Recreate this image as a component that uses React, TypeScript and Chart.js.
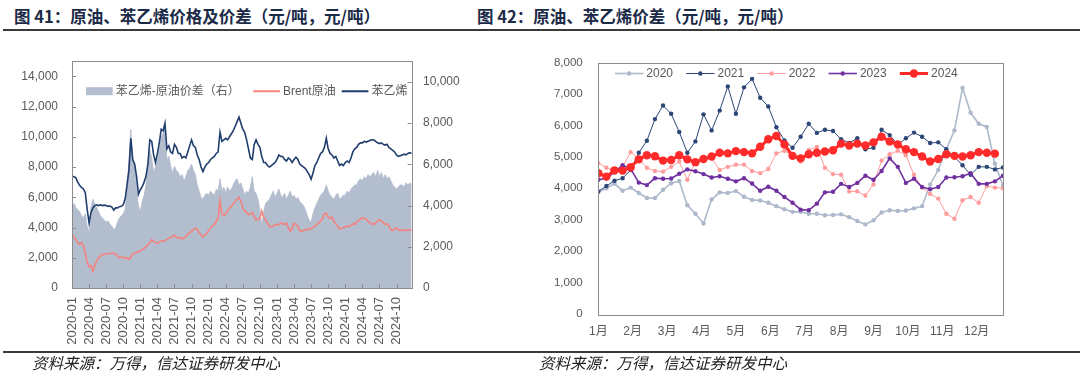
import React, { useEffect, useRef } from "react";
import { Chart, registerables } from "chart.js";

Chart.register(...registerables);

// ---------------- Figure 41 data (3 samples per month, 2020-01 .. 2024-12) ----------------
const samplesPerMonth = 3;
const quarterLabels = [
  "2020-01", "2020-04", "2020-07", "2020-10",
  "2021-01", "2021-04", "2021-07", "2021-10",
  "2022-01", "2022-04", "2022-07", "2022-10",
  "2023-01", "2023-04", "2023-07", "2023-10",
  "2024-01", "2024-04", "2024-07", "2024-10",
];
const leftPriceTicks = [0, 2000, 4000, 6000, 8000, 10000, 12000, 14000];
const rightSpreadTicks = [0, 2000, 4000, 6000, 8000, 10000];
const leftLegendLabels = ["苯乙烯-原油价差（右）", "Brent原油", "苯乙烯"];

const styrenePrice = [
  7400, 7350, 7300, 7000, 6800, 6650, 6550, 6300, 5200, 4300, 5000, 5300,
  5450, 5500, 5450, 5500, 5450, 5480, 5450, 5400, 5420, 5350, 5150, 5300,
  5300, 5380, 5400, 5500, 5900, 6800, 7800, 9900, 8500, 8200, 7400, 6200,
  6500, 6700, 7000, 7400, 8200, 9800, 9700, 8800, 8300, 8900, 9600, 10500,
  10400, 10900, 9200, 9400, 9000, 8900, 9500, 9300, 8900, 8900, 8600, 8700,
  8600, 9000, 9400, 9800, 9400, 9300, 8800, 8500, 8000, 7700, 8000, 8200,
  8300, 8500, 8600, 8700, 8900, 9000, 10300, 9700, 9800, 9900, 9800, 10000,
  10200, 10400, 10700, 11000, 11300, 10900, 10500, 10300, 9800, 9200, 8600, 8500,
  9500, 9800, 9500, 9300, 8700, 8300, 8300, 8100, 8000, 8100, 8200, 8300,
  8500, 8800, 8700, 8700, 8500, 8400, 8600, 8500, 8300, 8500, 8650, 8500,
  8200, 8100, 8000, 7900, 7700, 7500, 7200, 7600, 8100, 8300, 8600, 8900,
  9000, 9300, 9900, 9200, 8900, 8800, 8600, 8700, 8400, 8100, 8200, 8100,
  8300, 8400, 8300, 8600, 9000, 9200, 9300, 9500, 9600, 9600, 9700, 9650,
  9700, 9750, 9800, 9800, 9700, 9600, 9550, 9600, 9500, 9450, 9500, 9300,
  9200, 9100, 9000, 8800, 8700, 8750, 8800, 8850, 8800, 8900, 8950, 8900,
];

const brentPrice = [
  3500, 3400, 3200, 3000, 2900, 3000, 2800, 2300, 1700, 1400, 1500, 1100,
  1500, 1800, 2000, 2100, 2200, 2250, 2250, 2250, 2280, 2300, 2300, 2250,
  2100, 2000, 2050, 2050, 1950, 2000, 1900, 2050, 2250, 2300, 2350, 2400,
  2450, 2550, 2600, 2750, 2850, 3000, 3200, 3100, 3000, 2950, 3050, 3100,
  3100, 3150, 3200, 3300, 3350, 3400, 3500, 3350, 3300, 3350, 3250, 3300,
  3400, 3550, 3650, 3750, 3850, 3950, 3900, 3650, 3500, 3350, 3500, 3600,
  3800, 3950, 4100, 4200, 4400, 4600, 5800, 4900, 4800, 4900, 5100, 5300,
  5400, 5600, 5700, 5900, 6000, 5700, 5300, 5100, 5000, 4850, 4900, 5000,
  4700, 4500, 4550, 4600, 5100, 4700, 4500, 4300, 4100, 4050, 4100, 4200,
  4150, 4200, 4300, 4250, 4200, 4300, 4000, 3750, 3950, 4300, 4200, 4050,
  3800, 3750, 3800, 3850, 3900, 3850, 3950, 4000, 4100, 4200, 4350, 4400,
  4600, 4900, 4950, 4700, 4600, 4700, 4400, 4250, 4100, 3900, 3950, 4000,
  4050, 4100, 4050, 4150, 4250, 4200, 4400, 4450, 4550, 4650, 4600, 4550,
  4400, 4300, 4250, 4200, 4300, 4450, 4500, 4450, 4300, 4200, 4250, 4100,
  3850, 3800, 3900, 4000, 3850, 3800, 3850, 3800, 3850, 3800, 3850, 3800,
];

const spreadValues = [
  4000, 4100, 3900, 3800, 3700, 3500, 3400, 3600, 3000, 2700, 3900, 4300,
  4100, 3900, 3700, 3500, 3400, 3300, 3200, 3250, 3100, 3000, 2850, 2900,
  3200, 3400, 3500, 3600, 3800, 5000, 6100, 7700, 6200, 5900, 4800, 4000,
  3700, 4200, 4500, 5000, 6000, 6700, 6300, 5600, 5900, 6200, 6700, 7300,
  7500, 7800, 6200, 6400, 5900, 5600, 5900, 5700, 5600, 5400, 5500, 5200,
  5400, 5700, 5800, 6000, 5700, 5500, 5000, 4700, 4400, 4300, 4500, 4600,
  4500, 4700, 4600, 4500, 4800, 4700, 5300, 4700, 4900, 4600, 4900, 4700,
  4800, 5000, 5200, 5300, 5000, 5100, 4800, 4500, 4700, 4600, 4900, 5400,
  4700, 4600, 4300, 3800, 3000, 3700, 4100, 4200, 4300, 4500, 4700, 4400,
  4600, 4800, 4500, 4400, 4600, 4300, 4500, 4700, 4400, 4500, 4300, 4400,
  4200, 4100, 4000, 3800, 3500, 3300, 3200, 3600, 3900, 4100, 4300, 4500,
  4600, 4700, 5000, 4700, 4500, 4400, 4300, 4500, 4600, 4300, 4400, 4500,
  4500, 4700, 4600, 4800, 4900, 5000, 5000, 5200, 5300, 5200, 5400, 5300,
  5500, 5400, 5500, 5600, 5400, 5700, 5400, 5600, 5300, 5500, 5300, 5400,
  5200, 5000, 4900, 4800, 4900, 5000, 5000, 4900, 5100, 5000, 5100, 5000,
];

// ---------------- Figure 42 data (weekly, 51 slots per year) ----------------
const pointsPerYear = 51;
const monthLabels = ["1月", "2月", "3月", "4月", "5月", "6月", "7月", "8月", "9月", "10月", "11月", "12月"];
const yearLabels = ["2020", "2021", "2022", "2023", "2024"];
const rightChartTicks = [0, 1000, 2000, 3000, 4000, 5000, 6000, 7000, 8000];

const spread2020 = [
  3880, 4000, 4150, 3920, 4020, 3850, 3690, 3690, 3950, 4160,
  4230, 3460, 3190, 2880, 3640, 3870, 3850, 3910, 3730, 3630,
  3610, 3540, 3430, 3330, 3250, 3250, 3190, 3190, 3140, 3150,
  3170, 3080, 2960, 2850, 2980, 3230, 3300, 3280, 3290, 3360,
  3430, 4120, 4580, 5240, 5840, 7190, 6400, 6050, 5950, 4780, 4080,
];
const spread2021 = [
  3900, 4070, 4240, 4320, 4580, 5130, 5510, 6200, 6630, 6370,
  5790, 5130, 5490, 6350, 5840, 6470, 7240, 6370, 7210, 7480,
  6880, 6600, 5940, 5520, 5290, 5640, 6050, 5760, 5860, 5820,
  5560, 5440, 5590, 5240, 5290, 5860, 5690, 5390, 5590, 5770,
  5640, 5440, 5460, 5240, 5000, 4730, 4430, 4680, 4680, 4600, 4660,
];
const spread2022 = [
  4800, 4650, 4550, 4680, 5150, 4950, 4650, 4550, 4530, 4680,
  4850, 4270, 4850, 4950, 4960, 4580, 4680, 4750, 4750, 4550,
  4480, 4610, 5110, 5190, 5030, 4850, 5220, 5310, 4650, 4450,
  4430, 3900, 3900, 3770, 4120, 4880, 5080, 5190, 5050, 4430,
  4020, 3820, 3670, 3190, 3030, 3620, 3720, 3540, 4070, 4020, 4000,
];
const spread2023 = [
  4270, 4320, 4510, 4730, 4620, 4180, 4100, 4320, 4300, 4310,
  4460, 4600, 4540, 4450, 4340, 4380, 4300, 4220, 4320, 4150,
  3920, 4050, 3920, 3720, 3540, 3320, 3300, 3510, 3870, 3890,
  4140, 4040, 4170, 4400, 4270, 4550, 4950, 4680, 4170, 4300,
  4040, 3970, 4040, 4340, 4350, 4380, 4480, 4140, 4140, 4220, 4400,
];
const spread2024 = [
  4480, 4370, 4570, 4560, 4670, 4920, 5050, 5020, 4880, 4900,
  5050, 4920, 4830, 4930, 5010, 5130, 5110, 5180, 5150, 5110,
  5320, 5560, 5660, 5390, 5030, 4950, 5080, 5130, 5170, 5210,
  5420, 5360, 5420, 5360, 5460, 5640, 5490, 5390, 5240, 5150,
  5010, 4850, 4930, 5080, 5030, 5010, 5050, 5150, 5130, 5100,
];

// ---------------- styles ----------------
const LATIN = '"Liberation Sans", Arial, "Noto Sans CJK SC", sans-serif';
const CJK = '"Noto Sans CJK SC", "Noto Sans CJK TC", sans-serif';
const AXIS_TEXT = "#595959";
const BOX_COLOR = "#8C8C8C";
const STYRENE_COLOR = "#203D6E";
const BRENT_COLOR = "#F4837F";
const AREA_COLOR = "#B2BDCE";

const yearStyles = [
  { color: "#ADB9CA", width: 1.6, radius: 2.2 },
  { color: "#2B4677", width: 1, radius: 2.2 },
  { color: "#FF9C9C", width: 1, radius: 2.2 },
  { color: "#7030A0", width: 1.6, radius: 2.2 },
  { color: "#FF2A2A", width: 3, radius: 4.2 },
];

const thousands = (v: number) => Number(v).toLocaleString("en-US");
const fixedTicks = (values: number[]) => (s: any) => {
  s.ticks = values.map((v) => ({ value: v }));
};

const boxPlugin = {
  id: "boxFrame",
  afterDatasetsDraw(chart: any) {
    const { ctx, chartArea: a } = chart;
    ctx.save();
    ctx.strokeStyle = BOX_COLOR;
    ctx.lineWidth = 1;
    ctx.strokeRect(Math.round(a.left) + 0.5, Math.round(a.top) + 0.5, Math.round(a.right - a.left), Math.round(a.bottom - a.top));
    ctx.restore();
  },
};

const leftDecorPlugin = {
  id: "leftDecor",
  afterDatasetsDraw(chart: any) {
    const { ctx, chartArea: a, scales } = chart;
    ctx.save();
    ctx.strokeStyle = BOX_COLOR;
    ctx.lineWidth = 1;
    ctx.beginPath();
    scales.x.ticks.forEach((t: any) => {
      const px = Math.round(scales.x.getPixelForValue(t.value)) + 0.5;
      ctx.moveTo(px, a.bottom);
      ctx.lineTo(px, a.bottom - 4);
    });
    scales.y.ticks.forEach((t: any) => {
      const py = Math.round(scales.y.getPixelForValue(t.value)) + 0.5;
      ctx.moveTo(a.left, py);
      ctx.lineTo(a.left + 4, py);
    });
    scales.y1.ticks.forEach((t: any) => {
      const py = Math.round(scales.y1.getPixelForValue(t.value)) + 0.5;
      ctx.moveTo(a.right, py);
      ctx.lineTo(a.right - 4, py);
    });
    ctx.stroke();

    // legend inside plot, clipped at plot edge
    ctx.beginPath();
    ctx.rect(a.left, a.top, a.right - a.left, a.bottom - a.top);
    ctx.clip();
    const y = a.top + 30;
    const starts = [14, 181.3, 269.7];
    const ds = chart.data.datasets;
    const order = [2, 1, 0];
    ctx.font = `12px ${LATIN}`;
    ctx.textBaseline = "middle";
    order.forEach((di, k) => {
      const x0 = a.left + starts[k];
      const d = ds[di];
      if (d.fill) {
        ctx.fillStyle = AREA_COLOR;
        ctx.fillRect(x0, y - 4, 26.7, 8);
      } else {
        ctx.strokeStyle = d.borderColor;
        ctx.lineWidth = 2;
        ctx.beginPath();
        ctx.moveTo(x0, y);
        ctx.lineTo(x0 + 26.7, y);
        ctx.stroke();
      }
      ctx.fillStyle = AXIS_TEXT;
      ctx.fillText(leftLegendLabels[k], x0 + 29.7, y + 0.5);
    });
    ctx.restore();
  },
};

const rightLegendPlugin = {
  id: "rightLegend",
  afterDatasetsDraw(chart: any) {
    const { ctx, chartArea: a } = chart;
    const y = a.top + 11;
    let x = a.left + 16.7;
    ctx.save();
    ctx.font = `12px ${LATIN}`;
    ctx.textBaseline = "middle";
    yearLabels.forEach((label, k) => {
      const st = yearStyles[k];
      ctx.strokeStyle = st.color;
      ctx.lineWidth = st.width;
      ctx.beginPath();
      ctx.moveTo(x, y);
      ctx.lineTo(x + 28.3, y);
      ctx.stroke();
      ctx.fillStyle = st.color;
      ctx.beginPath();
      ctx.arc(x + 14.15, y, st.radius, 0, Math.PI * 2);
      ctx.fill();
      ctx.fillStyle = AXIS_TEXT;
      ctx.fillText(label, x + 31.3, y + 0.5);
      x += 31.3 + ctx.measureText(label).width + 13.2;
    });
    ctx.restore();
  },
};

function LeftChart() {
  const ref = useRef<HTMLCanvasElement>(null);
  useEffect(() => {
    const toPts = (arr: number[]) => arr.map((v, i) => ({ x: i / samplesPerMonth, y: v }));
    const chart = new Chart(ref.current as HTMLCanvasElement, {
      type: "line",
      data: {
        datasets: [
          {
            label: leftLegendLabels[2],
            data: toPts(styrenePrice),
            borderColor: STYRENE_COLOR,
            borderWidth: 1.6,
            pointRadius: 0,
            yAxisID: "y",
            order: 1,
          },
          {
            label: leftLegendLabels[1],
            data: toPts(brentPrice),
            borderColor: BRENT_COLOR,
            borderWidth: 1.6,
            pointRadius: 0,
            yAxisID: "y",
            order: 2,
          },
          {
            label: leftLegendLabels[0],
            data: toPts(spreadValues),
            borderColor: AREA_COLOR,
            backgroundColor: AREA_COLOR,
            borderWidth: 0.8,
            pointRadius: 0,
            fill: "origin",
            yAxisID: "y1",
            order: 3,
          },
        ],
      } as any,
      options: {
        responsive: false,
        animation: false,
        events: [],
        layout: { padding: { top: 16, left: 0, right: 0, bottom: 0 } },
        plugins: { legend: { display: false }, tooltip: { enabled: false } },
        scales: {
          x: {
            type: "linear",
            min: 0,
            max: (styrenePrice.length - 1) / samplesPerMonth,
            grid: { display: false, drawTicks: false },
            border: { display: false },
            afterBuildTicks: fixedTicks(quarterLabels.map((_, q) => q * 3)),
            ticks: {
              autoSkip: false,
              maxRotation: 90,
              minRotation: 90,
              padding: 9,
              color: AXIS_TEXT,
              font: { family: LATIN, size: 13 },
              callback: (v: any) => quarterLabels[Math.round(Number(v) / 3)],
            },
            afterFit: (s: any) => {
              s.height = 64;
            },
          },
          y: {
            position: "left",
            min: 0,
            max: 15000,
            grid: { display: false, drawTicks: false },
            border: { display: false },
            afterBuildTicks: fixedTicks(leftPriceTicks),
            ticks: {
              autoSkip: false,
              padding: 14,
              color: AXIS_TEXT,
              font: { family: LATIN, size: 12 },
              callback: (v: any) => thousands(v),
            },
            afterFit: (s: any) => {
              s.width = 72;
            },
          },
          y1: {
            position: "right",
            min: 0,
            max: 11000,
            grid: { display: false, drawTicks: false },
            border: { display: false },
            afterBuildTicks: fixedTicks(rightSpreadTicks),
            ticks: {
              autoSkip: false,
              padding: 11.3,
              color: AXIS_TEXT,
              font: { family: LATIN, size: 12 },
              callback: (v: any) => thousands(v),
            },
            afterFit: (s: any) => {
              s.width = 58.3;
            },
          },
        },
      } as any,
      plugins: [boxPlugin, leftDecorPlugin],
    });
    return () => chart.destroy();
  }, []);
  return (
    <canvas ref={ref} width={470} height={312} style={{ position: "absolute", left: 0, top: 40, width: 470, height: 312 }} />
  );
}

function RightChart() {
  const ref = useRef<HTMLCanvasElement>(null);
  useEffect(() => {
    const toPts = (arr: number[]) => arr.map((v, i) => ({ x: (i * 12) / pointsPerYear, y: v }));
    const all = [spread2020, spread2021, spread2022, spread2023, spread2024];
    const chart = new Chart(ref.current as HTMLCanvasElement, {
      type: "line",
      data: {
        datasets: all.map((arr, k) => ({
          label: yearLabels[k],
          data: toPts(arr),
          borderColor: yearStyles[k].color,
          backgroundColor: yearStyles[k].color,
          borderWidth: yearStyles[k].width,
          pointRadius: yearStyles[k].radius,
          pointBorderWidth: 0,
          pointBackgroundColor: yearStyles[k].color,
          order: 5 - k,
        })),
      } as any,
      options: {
        responsive: false,
        animation: false,
        events: [],
        layout: { padding: { top: 10.7, left: 0, right: 77, bottom: 0 } },
        plugins: { legend: { display: false }, tooltip: { enabled: false } },
        scales: {
          x: {
            type: "linear",
            min: 0,
            max: ((pointsPerYear - 1) * 12) / pointsPerYear,
            grid: { display: false, drawTicks: false },
            border: { display: false },
            afterBuildTicks: fixedTicks(monthLabels.map((_, m) => m)),
            ticks: {
              autoSkip: false,
              maxRotation: 0,
              minRotation: 0,
              padding: 10,
              color: AXIS_TEXT,
              font: { family: LATIN, size: 12 },
              callback: (v: any) => monthLabels[Math.round(Number(v))],
            },
            afterFit: (s: any) => {
              s.height = 38;
            },
          },
          y: {
            min: 0,
            max: 8000,
            grid: { display: false, drawTicks: false },
            border: { display: false },
            afterBuildTicks: fixedTicks(rightChartTicks),
            ticks: {
              autoSkip: false,
              padding: 15.6,
              color: AXIS_TEXT,
              font: { family: LATIN, size: 11.5 },
              callback: (v: any) => thousands(v),
            },
            afterFit: (s: any) => {
              s.width = 68.3;
            },
          },
        },
      } as any,
      plugins: [boxPlugin, rightLegendPlugin],
    });
    return () => chart.destroy();
  }, []);
  return (
    <canvas ref={ref} width={550} height={312} style={{ position: "absolute", left: 530, top: 40, width: 550, height: 312 }} />
  );
}

const titleStyle: React.CSSProperties = {
  position: "absolute",
  top: 5,
  fontFamily: CJK,
  fontWeight: 700,
  fontSize: 16.5,
  lineHeight: "22px",
  color: "#1B2A47",
  whiteSpace: "nowrap",
};

const sourceStyle: React.CSSProperties = {
  position: "absolute",
  top: 352,
  fontFamily: CJK,
  fontStyle: "italic",
  fontSize: 15.5,
  lineHeight: "20px",
  color: "#222222",
  whiteSpace: "nowrap",
};

export default function App() {
  return (
    <div style={{ position: "fixed", left: 0, top: 0, width: 1080, height: 375, background: "#ffffff", overflow: "hidden" }}>
      <div style={{ ...titleStyle, left: 14 }}>图 41：原油、苯乙烯价格及价差（元/吨，元/吨）</div>
      <div style={{ ...titleStyle, left: 477 }}>图 42：原油、苯乙烯价差（元/吨，元/吨）</div>
      <div style={{ position: "absolute", left: 3, top: 29, width: 1077, height: 2, background: "#3A3A3A" }} />
      <LeftChart />
      <RightChart />
      <div style={{ position: "absolute", left: 3, top: 351, width: 1077, height: 2, background: "#3A3A3A" }} />
      <div style={{ ...sourceStyle, left: 32 }}>资料来源：万得，信达证券研发中心</div>
      <div style={{ ...sourceStyle, left: 539 }}>资料来源：万得，信达证券研发中心</div>
    </div>
  );
}
